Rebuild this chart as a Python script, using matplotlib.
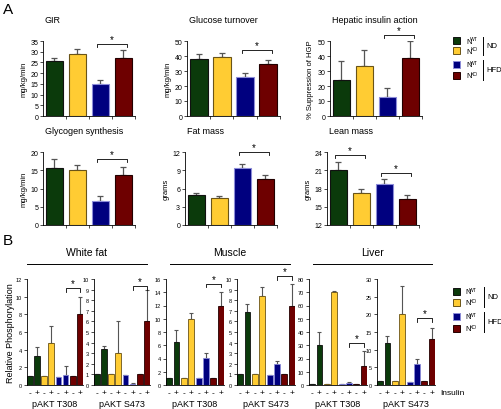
import matplotlib
matplotlib.use('Agg')
import matplotlib.pyplot as plt
from matplotlib.patches import Rectangle

plt.rcParams['font.family'] = ['Liberation Sans', 'DejaVu Sans']

W, H = 502, 410

# colours for the four groups
colors = ['#0b3a0b', '#ffcc33', '#00007f', '#6e0000']
edges = ['#111111', '#6a5418', '#8c8cd8', '#220000']
group_sup = ['WT', 'KO', 'WT', 'KO']

# panel A data
gir = [25.5, 28.8, 15.0, 27.3]
gir_err = [1.8, 2.3, 1.8, 3.3]
turnover = [38.0, 39.3, 26.0, 34.5]
turnover_err = [3.5, 3.0, 2.5, 3.0]
hepatic = [24.0, 33.3, 13.0, 39.0]
hepatic_err = [13.0, 11.0, 6.0, 11.0]
glycogen = [15.5, 15.0, 6.7, 13.6]
glycogen_err = [2.6, 1.5, 1.3, 2.4]
fat = [5.0, 4.5, 9.4, 7.5]
fat_err = [0.3, 0.2, 0.7, 0.7]
lean = [21.0, 17.3, 18.8, 16.2]
lean_err = [1.3, 0.7, 0.8, 0.7]

# panel B data (order: ND WT -/+, ND KO -/+, HFD WT -/+, HFD KO -/+)
insulin = ['-', '+'] * 4
wf_t308 = [1.0, 3.3, 1.0, 4.7, 0.95, 1.1, 1.0, 8.0]
wf_t308_err = [0, 1.05, 0, 2.0, 0, 1.05, 0, 2.0]
wf_s473 = [1.0, 3.35, 1.0, 3.0, 0.95, 0.1, 1.0, 6.0]
wf_s473_err = [0, 0.3, 0, 3.0, 0, 0.1, 0, 3.0]
mu_t308 = [1.0, 6.5, 1.0, 10.0, 1.0, 4.1, 1.0, 12.0]
mu_t308_err = [0, 1.8, 0, 0.8, 0, 0.7, 0, 2.0]
mu_s473 = [1.0, 6.9, 1.0, 8.4, 0.9, 1.95, 1.0, 7.5]
mu_s473_err = [0, 0.7, 0, 0.8, 0, 0.3, 0, 2.0]
li_t308 = [1.0, 30.0, 1.0, 70.0, 0.5, 1.2, 1.0, 14.5]
li_t308_err = [0, 10.0, 0, 1.0, 0, 1.2, 0, 11.0]
li_s473 = [1.0, 11.8, 1.0, 20.0, 0.8, 5.9, 1.0, 13.1]
li_s473_err = [0, 2.1, 0, 8.0, 0, 1.4, 0, 3.0]

fig = plt.figure(figsize=(W / 100, H / 100), dpi=100)


def px_axes(l, t, r, b):
    return fig.add_axes([l / W, 1 - b / H, (r - l) / W, (b - t) / H])


def style(ax, fs):
    for s in ['top', 'right']:
        ax.spines[s].set_visible(False)
    for s in ['left', 'bottom']:
        ax.spines[s].set_linewidth(0.6)
    ax.tick_params(axis='y', labelsize=fs, length=2, width=0.5, pad=1.5)


def bracket(ax, x1, x2, y, d):
    ax.plot([x1, x1, x2, x2], [y - d, y, y, y - d], color='k', lw=0.6, clip_on=False)
    ax.text((x1 + x2) / 2, y, '*', ha='center', va='bottom', fontsize=7, clip_on=False)


# ---- panel A
panelA = [
    ('GIR', 'mg/kg/min', gir, gir_err, (0, 35), range(0, 36, 5), [(2, 3, 33.5)], (43, 42, 135, 117)),
    ('Glucose turnover', 'mg/kg/min', turnover, turnover_err, (0, 50), range(0, 51, 10), [(2, 3, 44)], (187, 42, 280, 117)),
    ('Hepatic insulin action', '% Suppression of HGP', hepatic, hepatic_err, (0, 50), range(0, 51, 10), [(2, 3, 54)], (330, 42, 422, 117)),
    ('Glycogen synthesis', 'mg/kg/min', glycogen, glycogen_err, (0, 20), range(0, 21, 5), [(2, 3, 18)], (43, 153, 135, 226)),
    ('Fat mass', 'grams', fat, fat_err, (0, 12), range(0, 13, 3), [(2, 3, 12)], (185, 153, 277, 226)),
    ('Lean mass', 'grams', lean, lean_err, (12, 24), range(12, 25, 3), [(0, 1, 23.5), (2, 3, 20.5)], (327, 153, 419, 226)),
]

for title, ylab, vals, err, ylim, yt, brs, pos in panelA:
    ax = px_axes(*pos)
    x = range(4)
    ax.errorbar(x, vals, yerr=[[0] * 4, err], fmt='none', ecolor='#555555',
                elinewidth=0.9, capsize=2.2, capthick=0.9, zorder=1)
    ax.bar(x, vals, width=0.78, color=colors, edgecolor=edges, linewidth=0.8, zorder=2)
    ax.set_xlim(-0.5, 3.5)
    ax.set_ylim(*ylim)
    ax.set_yticks(list(yt))
    ax.set_xticks([0.5, 1.5, 2.5, 3.5])
    ax.tick_params(axis='x', labelbottom=False, length=2.5, width=0.5, direction='out')
    style(ax, 5)
    ax.set_ylabel(ylab, fontsize=5.5)
    ax.yaxis.set_label_coords(-0.17, 0.5)
    ax.set_title(title, fontsize=6.5, loc='left', pad=14, x=0.02)
    d = 0.04 * (ylim[1] - ylim[0])
    for i, j, y in brs:
        bracket(ax, i - 0.15, j + 0.15, y, d)

# ---- panel B
panelB = [
    (wf_t308, wf_t308_err, 12, 2, 11.0, 'pAKT T308', (27, 280, 83, 386)),
    (wf_s473, wf_s473_err, 10, 1, 9.3, 'pAKT S473', (94, 280, 150, 386)),
    (mu_t308, mu_t308_err, 16, 2, 15.3, 'pAKT T308', (166, 280, 224, 386)),
    (mu_s473, mu_s473_err, 10, 1, 10.3, 'pAKT S473', (237, 280, 295, 386)),
    (li_t308, li_t308_err, 80, 10, 31.7, 'pAKT T308', (309, 280, 367, 386)),
    (li_s473, li_s473_err, 30, 5, 19.0, 'pAKT S473', (377, 280, 435, 386)),
]

bcolors = [c for c in colors for _ in range(2)]
bedges = [c for c in edges for _ in range(2)]

for k, (vals, err, ymax, step, by, xlab, pos) in enumerate(panelB):
    ax = px_axes(*pos)
    x = range(8)
    ax.errorbar(x, vals, yerr=[[0] * 8, err], fmt='none', ecolor='#555555',
                elinewidth=0.8, capsize=1.6, capthick=0.8, zorder=1)
    ax.bar(x, vals, width=0.8, color=bcolors, edgecolor=bedges, linewidth=0.6, zorder=2)
    ax.set_xlim(-0.42, 7.45)
    ax.set_ylim(0, ymax)
    ax.set_yticks(range(0, ymax + 1, step))
    ax.set_xticks(list(x))
    ax.set_xticklabels(insulin, fontsize=6)
    ax.tick_params(axis='x', length=0, pad=3)
    style(ax, 4)
    ax.set_xlabel(xlab, fontsize=6.5, labelpad=2)
    bracket(ax, 5, 7, by, 0.035 * ymax)
    if k == 0:
        ax.set_ylabel('Relative Phosphorylation', fontsize=6.5)
        ax.yaxis.set_label_coords(-0.22, 0.5)

# ---- annotations (pixel coordinates)
ov = fig.add_axes([0, 0, 1, 1])
ov.set_xlim(0, W)
ov.set_ylim(H, 0)
ov.axis('off')
ov.text(3, 10, 'A', fontsize=11, va='center', ha='left')
ov.text(3, 241, 'B', fontsize=11, va='center', ha='left')

for name, l, r in [('White fat', 27, 147), ('Muscle', 170, 290), ('Liver', 313, 432)]:
    ov.plot([l, r], [265, 265], color='k', lw=0.7)
    ov.text((l + r) / 2, 253, name, fontsize=7.5, ha='center', va='center')

ov.text(440, 394, 'Insulin', fontsize=6, ha='left', va='center')


def legend(ys, lx, bx):
    for y, c, e, sup in zip(ys, colors, edges, group_sup):
        ov.add_patch(Rectangle((453, y - 3.5), 7, 7, facecolor=c, edgecolor=e, lw=0.7))
        ov.text(lx, y + 0.5, 'N', fontsize=5.5, ha='left', va='center')
        ov.text(lx + 4.3, y - 1.8, sup, fontsize=3.6, ha='left', va='center')
    ov.plot([bx, bx], [ys[0] - 4, ys[1] + 4], color='k', lw=0.7)
    ov.plot([bx, bx], [ys[2] - 4, ys[3] + 4], color='k', lw=0.7)
    ov.text(bx + 3, (ys[0] + ys[1]) / 2, 'ND', fontsize=5.5, ha='left', va='center')
    ov.text(bx + 3, (ys[2] + ys[3]) / 2, 'HFD', fontsize=5.5, ha='left', va='center')


legend([41.5, 51.5, 65, 76.5], 466, 483)
legend([292, 303.5, 317, 329], 465, 484)

fig.savefig('out.png', dpi=100)
